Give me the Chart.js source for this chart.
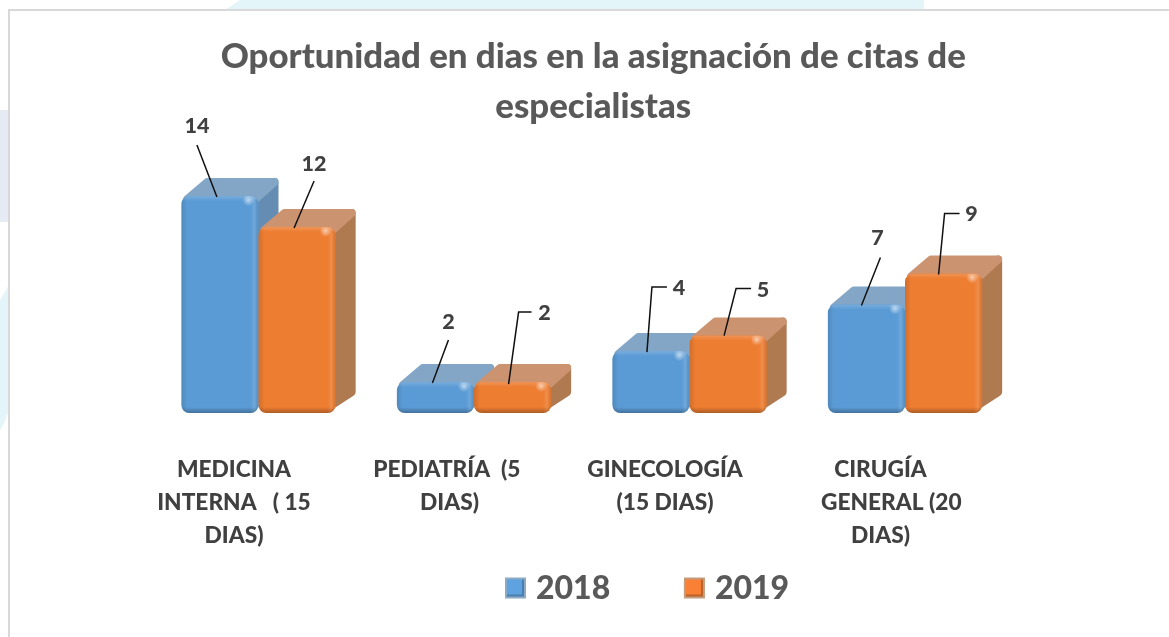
<!DOCTYPE html>
<html>
<head>
<meta charset="utf-8">
<style>html,body{margin:0;padding:0;background:#fff}canvas{display:block}</style>
<script src="https://cdn.jsdelivr.net/npm/chart.js@4"></script>
</head>
<body>
<canvas id="c" width="1169" height="637"></canvas>
<script>
const titleLines = ['Oportunidad en dias en la asignación de citas de', 'especialistas'];
const categories = [
  ['MEDICINA', 'INTERNA   ( 15', 'DIAS)'],
  ['PEDIATRÍA  (5 ', 'DIAS)'],
  ['GINECOLOGÍA', '(15 DIAS)'],
  ['CIRUGÍA', '    GENERAL (20', 'DIAS)']
];
const seriesNames = ['2018', '2019'];
const values2018 = [14, 2, 4, 7];
const values2019 = [12, 2, 5, 9];

// Leader-line routes and label anchors, as offsets from each bar's top centre.
const leaders2018 = [
  {label: [-23, -70], path: [[-23, -51], [-3, 1]]},
  {label: [13, -60], path: [[13, -42], [-3, 1]]},
  {label: [28, -63], path: [[16, -64], [1, -64], [-4, 1]]},
  {label: [11, -66], path: [[14, -47], [-5, 1]]}
];
const leaders2019 = [
  {label: [17, -63], path: [[17, -46], [-3, 1]]},
  {label: [32, -69], path: [[19, -70], [6, -70], [-4, 2]]},
  {label: [35, -46], path: [[23, -47], [8, -47], [-4, 0]]},
  {label: [28, -59], path: [[16, -60], [1, -60], [-5, 1]]}
];
const leaders = [leaders2018, leaders2019];

const FONT = 'Lato, Carlito, "Open Sans", sans-serif';
const frontColors = ['#5B9BD5', '#ED7D31'];
const topColors = ['#83A5C6', '#CC9370'];
const sideColors = ['#658DB3', '#B07A50'];
const DX = 20, DY = -18;

function poly(ctx, pts, color) {
  ctx.save();
  ctx.fillStyle = color; ctx.strokeStyle = color;
  ctx.lineWidth = 8; ctx.lineJoin = 'round';
  ctx.beginPath();
  pts.forEach((p, i) => i ? ctx.lineTo(p[0], p[1]) : ctx.moveTo(p[0], p[1]));
  ctx.closePath(); ctx.fill(); ctx.stroke();
  ctx.restore();
}

function drawDepth(ctx, el, i) {
  const x0 = el.x - el.width / 2, x1 = el.x + el.width / 2, t = el.y, b = el.base;
  poly(ctx, [[x1 - 4, b - 8], [x1 + DX - 4, b + DY - 3], [x1 + DX - 4, t + DY + 4], [x1 - 4, t + 4]], sideColors[i]);
  poly(ctx, [[x0 + 6, t + 3], [x0 + DX + 6, t + DY + 4], [x1 + DX - 4, t + DY + 4], [x1 - 4, t + 4]], topColors[i]);
}

function drawBevel(ctx, el) {
  const w = el.width, x0 = el.x - w / 2, x1 = x0 + w, t = el.y, b = el.base, h = b - t;
  ctx.save();
  ctx.beginPath(); ctx.roundRect(x0, t, w, h, 8); ctx.clip();
  let g = ctx.createLinearGradient(x0, 0, x1, 0);
  const lp = 6 / w, rp = 8 / w;
  g.addColorStop(0, 'rgba(0,0,0,0.12)');
  g.addColorStop(lp, 'rgba(0,0,0,0)');
  g.addColorStop(1 - rp, 'rgba(255,255,255,0)');
  g.addColorStop(1 - rp / 2, 'rgba(255,255,255,0.13)');
  g.addColorStop(1, 'rgba(0,0,0,0.08)');
  ctx.fillStyle = g; ctx.fillRect(x0, t, w, h);
  g = ctx.createLinearGradient(0, t, 0, b);
  const tp = 5 / h, bp = 6 / h;
  g.addColorStop(0, 'rgba(255,255,255,0.18)');
  g.addColorStop(tp, 'rgba(255,255,255,0)');
  g.addColorStop(1 - bp, 'rgba(0,0,0,0)');
  g.addColorStop(1, 'rgba(0,0,0,0.28)');
  ctx.fillStyle = g; ctx.fillRect(x0, t, w, h);
  const gx = x1 - 10, gy = t + 4;
  g = ctx.createRadialGradient(gx, gy, 0, gx, gy, 6);
  g.addColorStop(0, 'rgba(255,255,255,0.6)');
  g.addColorStop(1, 'rgba(255,255,255,0)');
  ctx.fillStyle = g; ctx.fillRect(gx - 6, gy - 6, 12, 12);
  ctx.restore();
}

const paperPlugin = {
  id: 'paper',
  beforeDraw(chart) {
    const ctx = chart.ctx;
    ctx.save();
    ctx.fillStyle = '#fff'; ctx.fillRect(0, 0, 1169, 637);
    ctx.fillStyle = '#E3F5F9';
    ctx.beginPath(); ctx.moveTo(225, 10); ctx.lineTo(240, 0); ctx.lineTo(924, 0); ctx.lineTo(924, 10); ctx.closePath(); ctx.fill();
    ctx.beginPath(); ctx.moveTo(0, 300); ctx.quadraticCurveTo(5, 292, 9, 285); ctx.lineTo(9, 410); ctx.quadraticCurveTo(5, 423, 0, 430); ctx.closePath(); ctx.fill();
    ctx.fillStyle = '#E6EAF4'; ctx.fillRect(0, 110, 9, 112);
    ctx.fillStyle = '#D9D9D9';
    ctx.fillRect(9, 9, 1160, 2);
    ctx.fillRect(8, 9, 2, 628);
    ctx.restore();
  }
};

const placementPlugin = {
  id: 'placement',
  afterLayout(chart) {
    const title = chart.titleBlock, legend = chart.legend;
    const shift = 11.5;
    title.left += shift; title.right += shift;
    const pad = legend.options.labels.padding;
    const col = legend.columnSizes[0];
    const markerLeft = 505, textTop = 573;
    legend.left = markerLeft - pad;
    legend.right = legend.left + legend.width;
    legend.top = textTop - pad;
    legend.bottom = legend.top + pad + col.height;
  },
  afterDraw(chart) {
    const ctx = chart.ctx, legend = chart.legend;
    const pad = legend.options.labels.padding;
    let x = legend.left + pad;
    legend.legendItems.forEach((item, i) => {
      const y = 577.5, s = 21;
      ctx.save();
      ctx.fillStyle = '#fff'; ctx.fillRect(x, y, s, s);
      ctx.fillStyle = sideColors[i]; ctx.globalAlpha = 0.75; ctx.fillRect(x, y, s, s);
      ctx.globalAlpha = 1;
      ctx.fillStyle = i === 0 ? '#5FA2E0' : '#F98035'; ctx.fillRect(x + 2, y + 2, s - 5, s - 5);
      ctx.fillStyle = i === 0 ? '#4A7FAE' : '#BC6228'; ctx.fillRect(x + 2, y + s - 4, s - 5, 2); ctx.fillRect(x + s - 4, y + 2, 2, s - 4);
      ctx.restore();
      if (legend.columnSizes[i]) x += legend.columnSizes[i].width + pad;
    });
  }
};

const solidPlugin = {
  id: 'solid',
  beforeDatasetDraw() { return false; },
  afterDatasetsDraw(chart) {
    const ctx = chart.ctx;
    for (let c = 0; c < categories.length; c++) {
      [0, 1].forEach(i => {
        const el = chart.getDatasetMeta(i).data[c];
        drawDepth(ctx, el, i);
        el.draw(ctx);
        drawBevel(ctx, el);
      });
    }
    [0, 1].forEach(i => {
      const meta = chart.getDatasetMeta(i);
      meta.data.forEach((el, c) => {
        const l = leaders[i][c];
        ctx.save();
        ctx.strokeStyle = '#111'; ctx.lineWidth = 1.5;
        ctx.beginPath();
        l.path.forEach((p, k) => {
          const px = el.x + p[0], py = el.y + p[1];
          k ? ctx.lineTo(px, py) : ctx.moveTo(px, py);
        });
        ctx.stroke();
        ctx.fillStyle = '#404040';
        ctx.font = '900 21.5px ' + FONT;
        ctx.textAlign = 'center'; ctx.textBaseline = 'middle';
        ctx.fillText(String(chart.data.datasets[i].data[c]), el.x + l.label[0], el.y + l.label[1]);
        ctx.restore();
      });
    });
  }
};

new Chart(document.getElementById('c'), {
  type: 'bar',
  data: {
    labels: categories,
    datasets: [
      {label: seriesNames[0], data: values2018, backgroundColor: frontColors[0], borderRadius: 8, borderSkipped: false, borderWidth: 0},
      {label: seriesNames[1], data: values2019, backgroundColor: frontColors[1], borderRadius: 8, borderSkipped: false, borderWidth: 0}
    ]
  },
  options: {
    responsive: false,
    animation: false,
    events: [],
    categoryPercentage: 0.716,
    barPercentage: 1,
    layout: {padding: {left: 150.75, right: 156.25, top: 0, bottom: 50}},
    scales: {
      x: {
        grid: {display: false},
        border: {display: false},
        ticks: {
          autoSkip: false, maxRotation: 0, minRotation: 0,
          padding: 35, labelOffset: -24.5,
          color: '#404040',
          font: {family: FONT, weight: '900', size: 22.7, lineHeight: '33px'}
        }
      },
      y: {display: false, min: 0.2, max: 16}
    },
    plugins: {
      tooltip: {enabled: false},
      title: {
        display: true,
        text: titleLines,
        color: '#595959',
        font: {family: FONT, weight: '900', size: 34.8, lineHeight: '50px'},
        padding: {top: 32, bottom: 33}
      },
      legend: {
        position: 'chartArea',
        labels: {
          boxWidth: 15, boxHeight: 15, padding: 73.7,
          color: '#595959',
          font: {family: FONT, weight: '900', size: 32}
        }
      }
    }
  },
  plugins: [paperPlugin, placementPlugin, solidPlugin]
});
</script>
</body>
</html>
